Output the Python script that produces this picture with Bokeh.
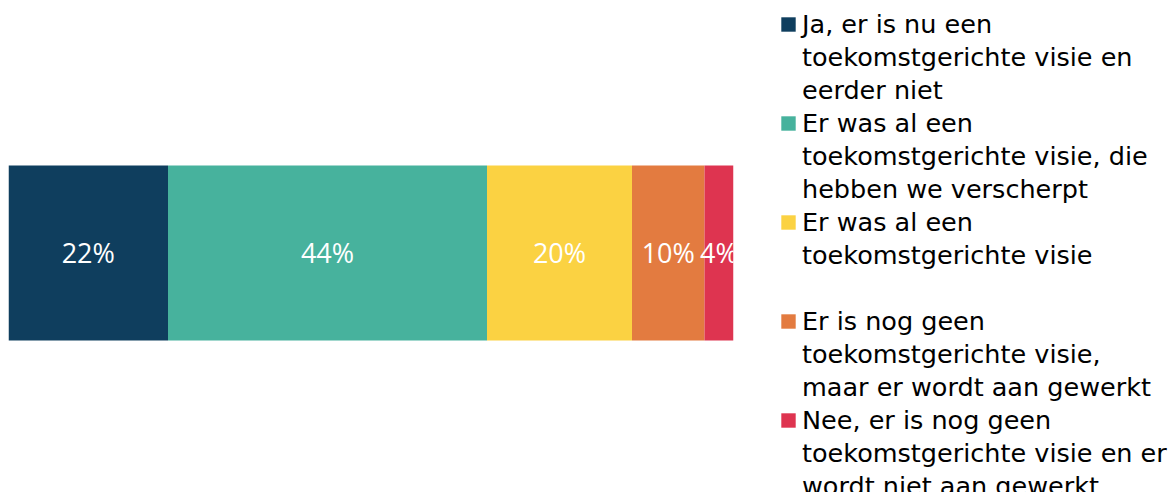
from bokeh.plotting import figure
from bokeh.models import Range1d, Legend, LegendItem, ColumnDataSource
from bokeh.core.properties import value
from bokeh.embed import file_html
from bokeh.resources import INLINE
import numpy as np

categories = [
    ["Ja, er is nu een", "toekomstgerichte visie en", "eerder niet"],
    ["Er was al een", "toekomstgerichte visie, die", "hebben we verscherpt"],
    ["Er was al een", "toekomstgerichte visie", " "],
    ["Er is nog geen", "toekomstgerichte visie,", "maar er wordt aan gewerkt"],
    ["Nee, er is nog geen", "toekomstgerichte visie en er", "wordt niet aan gewerkt"],
]
values = [22, 44, 20, 10, 4]
labels = ["22%", "44%", "20%", "10%", "4%"]
colors = ["#0f3e5e", "#47b29d", "#fbd242", "#e37b40", "#de3450"]

vals = np.array(values, dtype=float)
rights = np.cumsum(vals)
lefts = rights - vals
centers = (lefts + rights) / 2

FW, FH, BL, BT = 725, 476, 8, 8
p = figure(frame_width=FW, frame_height=FH, output_backend="svg", toolbar_location=None,
           x_range=Range1d(0, 100), y_range=Range1d(-1.3229, 1.3971),
           min_border_left=BL, min_border_right=436, min_border_top=BT, min_border_bottom=7)
p.axis.visible = False
p.grid.visible = False
p.outline_line_color = None

bar_src = ColumnDataSource(dict(y=[0] * len(values), left=lefts, right=rights, color=colors))
renderers = []
for i in range(len(values)):
    src = ColumnDataSource(dict(y=[0], left=[lefts[i]], right=[rights[i]]))
    r = p.hbar(y="y", left="left", right="right", height=1, source=src,
               fill_color=colors[i], line_color=None)
    renderers.append(r)

# transparent twin of the bars, only used so that continuation lines of the
# legend get no visible swatch
ghost = p.hbar(y="y", left="left", right="right", height=1, source=bar_src,
               fill_alpha=0, line_alpha=0)

tsrc = ColumnDataSource(dict(x=centers, y=[0] * len(values), t=labels))
p.text(x="x", y="y", text="t", source=tsrc, text_color="white", text_align="center",
       text_baseline="middle", text_font=value("Open Sans"), text_font_size="27px")

items = []
for i, lines in enumerate(categories):
    items.append(LegendItem(label=lines[0], renderers=[renderers[i]]))
    for line in lines[1:]:
        items.append(LegendItem(label=line, renderers=[ghost]))

first_center = 24.0
row_h = 33
legend_top = first_center - row_h / 2
legend_h = len(items) * row_h
frame_bottom = BT + FH

legend = Legend(items=items, location=(46, frame_bottom - legend_top - legend_h),
                margin=0, padding=0, spacing=0,
                glyph_width=18, glyph_height=18, label_standoff=5, label_height=row_h,
                label_text_font="DejaVu Sans", label_text_font_size="25.5px",
                label_text_color="#000000", border_line_color=None,
                background_fill_alpha=0)
p.add_layout(legend, "right")

open("out.html", "w").write(file_html(p, INLINE))
